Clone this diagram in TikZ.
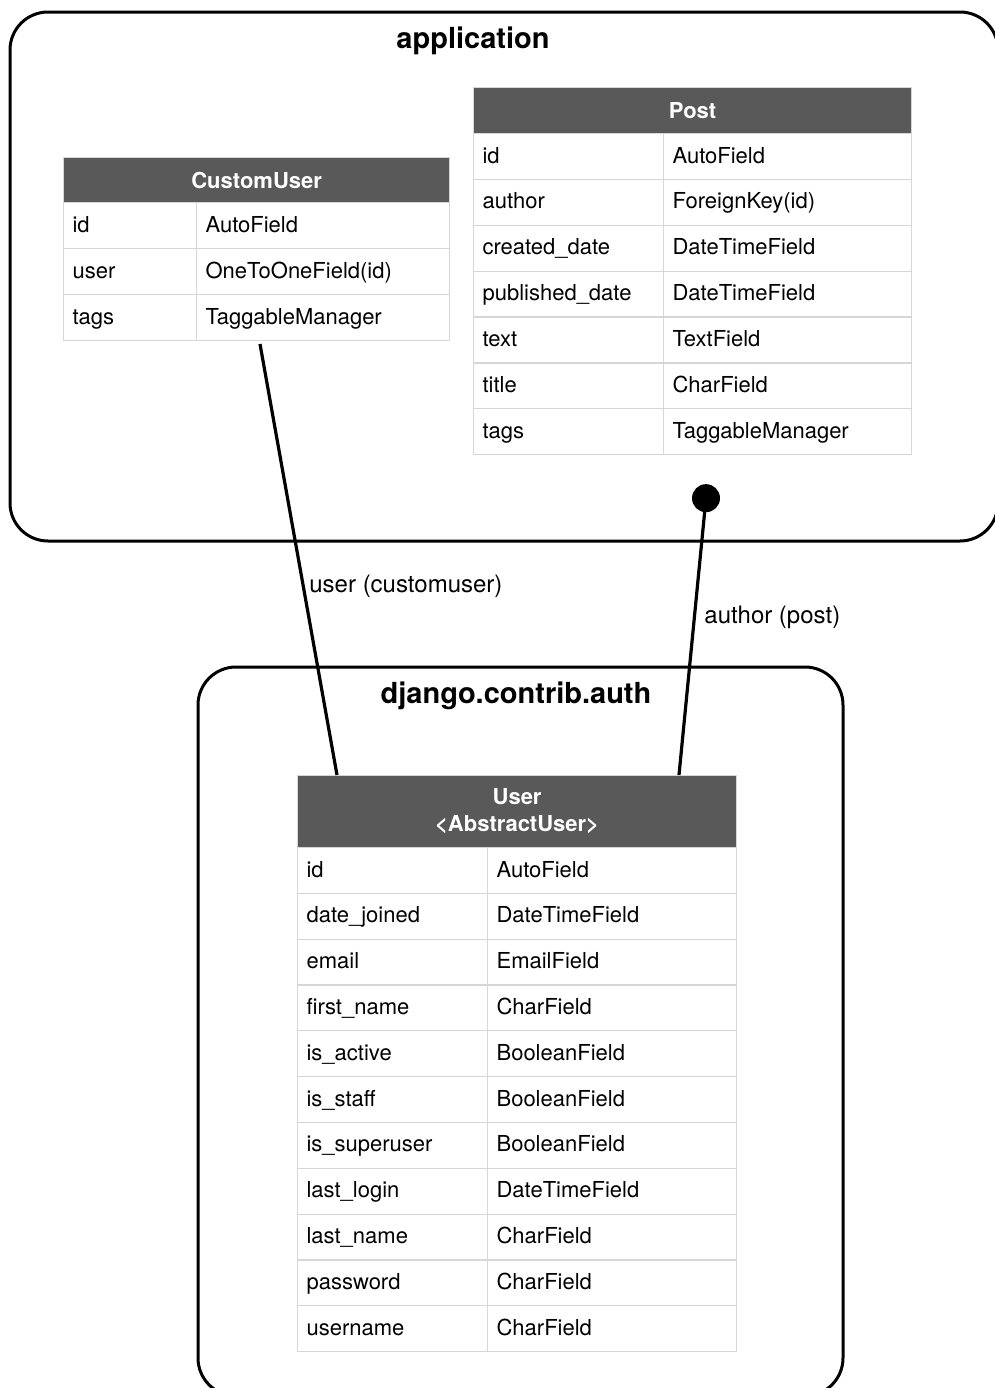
\documentclass[tikz,border=0pt]{standalone}
\usepackage{fontspec}
\setmainfont{TeX Gyre Heros}
\usetikzlibrary{positioning,calc}
\definecolor{headgray}{HTML}{595959}
\definecolor{linegray}{HTML}{D6D6D6}
\tikzset{>=stealth}
\tikzset{
  group/.style={draw, line width=1.5pt, rounded corners=19pt},
  grouptitle/.style={font=\bfseries\fontsize{14.5}{17}\selectfont, inner sep=0pt},
  header/.style={fill=headgray, draw=linegray, line width=0.6pt, text=white, anchor=north west,
    inner sep=0pt, align=center, font=\bfseries\fontsize{11}{13.5}\selectfont},
  cell/.style={draw=linegray, line width=0.6pt, anchor=north west, inner xsep=4.5pt, inner ysep=0pt,
    align=left, text height=9pt, text depth=2.5pt, minimum height=22.9pt, font=\fontsize{11}{13}\selectfont},
  link/.style={line width=1.6pt},
  linklabel/.style={anchor=west, inner sep=0pt, font=\fontsize{12}{14}\selectfont},
}

\begin{document}
\begin{tikzpicture}[x=0.5pt, y=-0.5pt]
    \useasboundingbox (0,0) rectangle (995,1388);
    \clip (0,0) rectangle (995,1388);
    \fill[white] (0,0) rectangle (995,1388);
    % groups
    \draw[group] (10,12) rectangle (998,541);
    \node[grouptitle] (application) at (473,41) {application};
    \draw[group] (198,667) rectangle (843,1396);
    \node[grouptitle] (auth) at (516,696) {django.contrib.auth};
    % CustomUser
    \node[header, minimum width=193pt, minimum height=22.5pt] (customuser) at (63,157) {CustomUser};
    \foreach \field/\kind [count=\i] in {id/AutoField, user/OneToOneField(id), tags/TaggableManager} {
        \node[cell, text width=57.5pt] (cu-name-\i) at (63,{202+(\i-1)*46}) {\field};
        \node[cell, text width=117.5pt] (cu-kind-\i) at (196,{202+(\i-1)*46}) {\kind};
    }
    % Post
    \node[header, minimum width=219pt, minimum height=23pt] (post) at (473,87) {Post};
    \foreach \field/\kind [count=\i] in {id/AutoField, author/ForeignKey(id), created\_date/DateTimeField,
        published\_date/DateTimeField, text/TextField, title/CharField, tags/TaggableManager} {
        \node[cell, text width=86pt] (post-name-\i) at (473,{133+(\i-1)*45.86}) {\field};
        \node[cell, text width=115pt] (post-kind-\i) at (663,{133+(\i-1)*45.86}) {\kind};
    }
    % User
    \node[header, minimum width=219.5pt, minimum height=36pt] (user) at (297,775) {User\\\textless AbstractUser\textgreater};
    \foreach \field/\kind [count=\i] in {id/AutoField, date\_joined/DateTimeField, email/EmailField,
        first\_name/CharField, is\_active/BooleanField, is\_staff/BooleanField, is\_superuser/BooleanField,
        last\_login/DateTimeField, last\_name/CharField, password/CharField, username/CharField} {
        \node[cell, text width=86pt] (user-name-\i) at (297,{847+(\i-1)*45.82}) {\field};
        \node[cell, text width=115.5pt] (user-kind-\i) at (487,{847+(\i-1)*45.82}) {\kind};
    }
    % relations
    \draw[link] ([shift={(32pt,-1.5pt)}]cu-kind-3.south west) -- ([xshift=20pt]user.north west);
    \node[linklabel] (lbl-customuser) at (309,586) {user (customuser)};
    \coordinate (post-dot) at ([shift={(21.5pt,-21.5pt)}]post-kind-7.south west);
    \draw[link] (post-dot) -- ([xshift=191pt]user.north west);
    \fill (post-dot) circle [radius=7pt];
    \node[linklabel] (lbl-post) at (704,617) {author (post)};
\end{tikzpicture}
\end{document}
